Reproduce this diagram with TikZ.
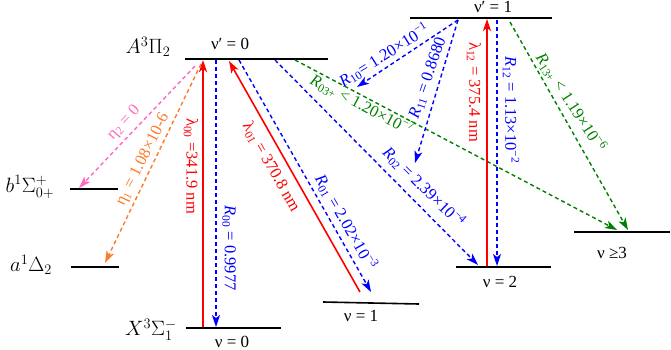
\documentclass[tikz,border=0pt]{standalone}
\usepackage{fontspec}
\setmainfont{Liberation Serif}
\usetikzlibrary{arrows.meta}
\definecolor{cred}{RGB}{255,0,0}
\definecolor{cblue}{RGB}{0,0,255}
\definecolor{cgreen}{RGB}{0,128,0}
\definecolor{corange}{RGB}{255,122,40}
\definecolor{cpink}{RGB}{255,105,195}
\begin{document}
\begin{tikzpicture}[x=1pt,y=-1pt,
  level/.style={line width=1.6pt,black},
  tip/.style={-{Stealth[length=12pt,width=8pt,inset=3pt]}},
  pump/.style={tip,line width=1.6pt,cred},
  decay/.style={tip,line width=1.4pt,dash pattern=on 4pt off 3pt},
  lbl/.style={font=\fontsize{16.5}{18}\selectfont,inner sep=0pt},
  state/.style={font=\fontsize{21.5}{23}\selectfont,inner sep=0pt},
  vib/.style={font=\fontsize{17}{19}\selectfont,inner sep=0pt}]
\useasboundingbox (0,0) rectangle (671,350);
% level end points
\coordinate (AL) at (185,59);  \coordinate (AR) at (328,59);
\coordinate (BL) at (410,18);  \coordinate (BR) at (552,18);
\coordinate (bL) at (70,189);  \coordinate (bR) at (118,189);
\coordinate (aL) at (71,267);  \coordinate (aR) at (119,267);
\coordinate (XL) at (186,328); \coordinate (XR) at (281,328);
\coordinate (v1L) at (323,302); \coordinate (v1R) at (419,304);
\coordinate (v2L) at (456,267); \coordinate (v2R) at (551,267);
\coordinate (v3L) at (574,232); \coordinate (v3R) at (670,232);
\draw[level] (AL) -- (AR);
\draw[level] (BL) -- (BR);
\draw[level] (bL) -- (bR);
\draw[level] (aL) -- (aR);
\draw[level] (XL) -- (XR);
\draw[level] (v1L) -- (v1R);
\draw[level] (v2L) -- (v2R);
\draw[level] (v3L) -- (v3R);
% level labels
\node[state] (lA) at (148,47) {$A^3\Pi_2$};
\node[state] (lb) at (30,187) {$b^1\Sigma^+_{0+}$};
\node[state] (la) at (31,265) {$a^1\Delta_2$};
\node[state] (lX) at (151,330) {$X^3\Sigma^-_1$};
\node[vib] (n0p) at (230,44) {ν′ = 0};
\node[vib] (n1p) at (493,7) {ν′ = 1};
\node[vib] (n0) at (232,342) {ν = 0};
\node[vib] (n1) at (361,316) {ν = 1};
\node[vib] (n2) at (500,282) {ν = 2};
\node[vib] (n3) at (612,253) {ν ≥3};
% arrow end points
\coordinate (pS) at (195,66);  \coordinate (pE) at (79,188);
\coordinate (oS) at (201,64);  \coordinate (oE) at (105,263);
\coordinate (r0S) at (203,327); \coordinate (r0E) at (203,60);
\coordinate (b0S) at (216,60); \coordinate (b0E) at (216,327);
\coordinate (r1S) at (360,292); \coordinate (r1E) at (229,61);
\coordinate (b1S) at (239,60); \coordinate (b1E) at (371,292);
\coordinate (b2S) at (275,60); \coordinate (b2E) at (478,265);
\coordinate (g3S) at (295,60); \coordinate (g3E) at (617,230);
\coordinate (b10S) at (458,20); \coordinate (b10E) at (357,87);
\coordinate (b11S) at (458,20); \coordinate (b11E) at (415,163);
\coordinate (r12S) at (487,266); \coordinate (r12E) at (487,19);
\coordinate (b12S) at (497,20); \coordinate (b12E) at (497,266);
\coordinate (g13S) at (510,22); \coordinate (g13E) at (628,230);
% arrows
\draw[decay,cpink] (pS) -- (pE);
\draw[decay,corange] (oS) -- (oE);
\draw[pump] (r0S) -- (r0E);
\draw[decay,cblue] (b0S) -- (b0E);
\draw[pump] (r1S) -- (r1E);
\draw[decay,cblue] (b1S) -- (b1E);
\draw[decay,cblue] (b2S) -- (b2E);
\draw[decay,cgreen] (g3S) -- (g3E);
\draw[decay,cblue] (b10S) -- (b10E);
\draw[decay,cblue] (b11S) -- (b11E);
\draw[pump] (r12S) -- (r12E);
\draw[decay,cblue] (b12S) -- (b12E);
\draw[decay,cgreen] (g13S) -- (g13E);
% labels
\node[lbl,cpink,rotate=47.5] (t1) at (124,123) {η\textsubscript{2} = 0};
\node[lbl,corange,rotate=63.4] (t2) at (143,160) {η\textsubscript{1} = 1.08×10-6};
\node[lbl,cred,rotate=-90] (t3) at (191,166) {λ\textsubscript{00} =341.9 nm};
\node[lbl,cblue,rotate=-90] (t4) at (229,248) {\textit{R}\textsubscript{00} = 0.9977};
\node[lbl,cred,rotate=-60.3] (t5) at (271,167) {λ\textsubscript{01} = 370.8 nm};
\node[lbl,cblue,rotate=-60.3] (t6) at (346,222) {\textit{R}\textsubscript{01} = 2.02×10\textsuperscript{−3}};
\node[lbl,cblue,rotate=-44.6] (t7) at (424,187) {\textit{R}\textsubscript{02} = 2.39×10\textsuperscript{−4}};
\node[lbl,cgreen,rotate=-27.8] (t8) at (362,105) {\textit{R}\textsubscript{03+} < 1.20×10\textsuperscript{−7}};
\node[lbl,cblue,rotate=32] (t9) at (384,55) {\textit{R}\textsubscript{10}= 1.20×10\textsuperscript{−1}};
\node[lbl,cblue,rotate=71] (t10) at (428,78) {\textit{R}\textsubscript{11} = 0.8680};
\node[lbl,cred,rotate=-90] (t11) at (474,92) {λ\textsubscript{12} = 375.4 nm};
\node[lbl,cblue,rotate=-90] (t12) at (511,110) {\textit{R}\textsubscript{12} = 1.13×10\textsuperscript{−2}};
\node[lbl,cgreen,rotate=-57] (t13) at (571,102) {\textit{R}\textsubscript{13+} < 1.19×10\textsuperscript{−6}};
\end{tikzpicture}
\end{document}
